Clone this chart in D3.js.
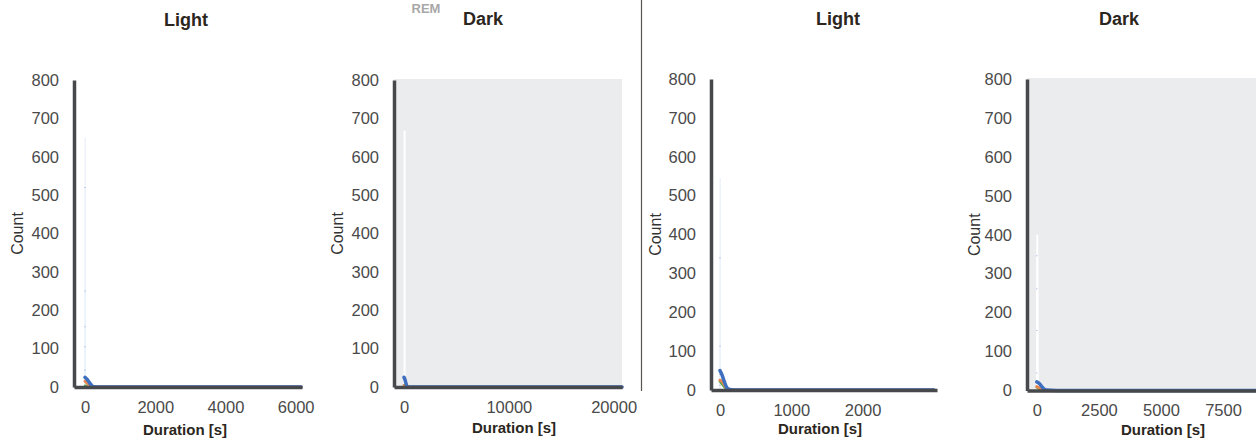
<!DOCTYPE html>
<html>
<head>
<meta charset="utf-8">
<script src="https://cdn.jsdelivr.net/npm/d3@7"></script>
<style>
  body { margin: 0; background: #fff; }
  svg { display: block; font-family: "Liberation Sans", Arial, sans-serif; }
</style>
</head>
<body>
<svg id="chart" width="1256" height="443"></svg>
<script>
// ---- data ----
const titles = ["Light", "Dark", "Light", "Dark"];
const yTicks = [0, 100, 200, 300, 400, 500, 600, 700, 800];
const xTicks = [
  [0, 2000, 4000, 6000],
  [0, 10000, 20000],
  [0, 1000, 2000],
  [0, 2500, 5000, 7500],
];
const xDomains = [
  [-315, 6180],
  [-960, 20800],
  [-126, 3043],
  [-395, 10600],
];

// histogram (very narrow bins near zero, overlapping hues)
const histBinWidth = [10, 190, 12, 80];
const histCounts = [
  [650, 520, 250, 157, 105, 44],
  [668, 22, 5],
  [545, 340, 113, 40, 12],
  [400, 346, 261, 154, 45],
];

// kde curves (x in seconds, y in counts)
const kdeX = [
  [0, 60, 120, 180, 240, 400, 6150],
  [0, 80, 160, 240, 320, 600, 20800],
  [0, 30, 60, 90, 120, 200, 3000],
  [0, 100, 200, 300, 400, 800, 10600],
];
const blueKde = [
  [25, 20, 12, 5, 1, 0, 0],
  [25, 20, 12, 4, 1, 0, 0],
  [50, 38, 22, 8, 2, 0, 0],
  [22, 18, 10, 3, 1, 0, 0],
];
const orangeKde = [
  [15, 10, 4, 1, 0, 0, 0],
  [3, 2, 1, 0, 0, 0, 0],
  [25, 22, 14, 6, 2, 0, 0],
  [10, 7, 3, 1, 0, 0, 0],
];
const greenKde = [
  [3, 2, 1, 0, 0, 0, 0],
  [5, 3, 1, 0, 0, 0, 0],
  [22, 15, 8, 3, 1, 0, 0],
  [8, 5, 2, 0, 0, 0, 0],
];

// ---- layout per panel ----
const panels = [
  { x0: 74, x1: 302, yTop: 80, yBot: 387, bg: false, titleX: 186, titleY: 26, labX: 185, labY: 435, countX: 18 },
  { x0: 394, x1: 622, yTop: 80, yBot: 387, bg: true, titleX: 483, titleY: 25, labX: 514, labY: 433, countX: 338 },
  { x0: 711, x1: 937, yTop: 79, yBot: 390, bg: false, titleX: 838, titleY: 25, labX: 820, labY: 434, countX: 656 },
  { x0: 1027, x1: 1300, yTop: 79, yBot: 390.5, bg: true, titleX: 1119, titleY: 25, labX: 1163, labY: 435, countX: 975 },
];

const colors = { blue: "#3f6fbf", orange: "#e8864f", green: "#5fa84f" };
const axisColor = "#46484b";

const svg = d3.select("#chart");

// top "REM" fragment
svg.append("text")
  .attr("x", 426).attr("y", 13)
  .attr("text-anchor", "middle")
  .attr("font-size", 13).attr("font-weight", "bold")
  .attr("fill", "#a8a8a8")
  .text("REM");

// separator between the two halves
svg.append("line")
  .attr("x1", 641.5).attr("x2", 641.5)
  .attr("y1", 0).attr("y2", 391)
  .attr("stroke", "#5c554e").attr("stroke-width", 1.2);

panels.forEach((p, i) => {
  const x = d3.scaleLinear().domain(xDomains[i]).range([p.x0, p.x1]);
  const y = d3.scaleLinear().domain([0, 800]).range([p.yBot, p.yTop]);
  const g = svg.append("g");

  if (p.bg) {
    g.append("rect")
      .attr("x", p.x0).attr("y", p.yTop - 1)
      .attr("width", p.x1 - p.x0).attr("height", p.yBot - p.yTop + 1)
      .attr("fill", "#ebeced");
  }

  // histogram bars (all stacked right at zero)
  const bw = Math.max(1.5, x(histBinWidth[i]) - x(0));
  g.selectAll("rect.bar")
    .data(histCounts[i])
    .join("rect")
    .attr("class", "bar")
    .attr("x", x(0) - 0.5)
    .attr("y", (d) => y(d))
    .attr("width", Math.min(bw, 2))
    .attr("height", (d) => y(0) - y(d))
    .attr("fill", p.bg ? "#ffffff" : "#eef2fa");

  // small blue caps on bar tops
  g.selectAll("rect.cap")
    .data(histCounts[i].slice(1))
    .join("rect")
    .attr("class", "cap")
    .attr("x", x(0) - 0.5)
    .attr("y", (d) => y(d) - 0.5)
    .attr("width", 1).attr("height", 1)
    .attr("fill", "#8ea8dc");

  // kde lines
  const line = d3.line().x((d) => x(d[0])).y((d) => y(d[1])).curve(d3.curveMonotoneX);
  [[greenKde, colors.green, 2.5], [orangeKde, colors.orange, 3], [blueKde, colors.blue, 3.5]].forEach(([series, c, w]) => {
    g.append("path")
      .datum(kdeX[i].map((v, k) => [v, series[i][k]]))
      .attr("d", line)
      .attr("fill", "none")
      .attr("stroke", c)
      .attr("stroke-width", w)
      .attr("stroke-linecap", "round");
  });

  // axes
  const xAxis = g.append("g")
    .attr("transform", `translate(0,${p.yBot})`)
    .call(d3.axisBottom(x).tickValues(xTicks[i]).tickFormat(d3.format("d"))
      .tickSize(0).tickSizeOuter(0).tickPadding(14));
  const yAxis = g.append("g")
    .attr("transform", `translate(${p.x0},0)`)
    .call(d3.axisLeft(y).tickValues(yTicks).tickFormat(d3.format("d"))
      .tickSize(0).tickSizeOuter(0).tickPadding(15));

  [xAxis, yAxis].forEach((a) => {
    a.select(".domain").attr("stroke", axisColor).attr("stroke-width", 3.5);
    a.selectAll("text")
      .attr("font-size", 16.5)
      .attr("fill", "#4a4a4a")
      .attr("font-family", "Liberation Sans, Arial, sans-serif");
  });

  // titles and labels
  g.append("text")
    .attr("x", p.titleX).attr("y", p.titleY)
    .attr("text-anchor", "middle")
    .attr("font-size", 18).attr("font-weight", "bold")
    .attr("fill", "#2b2620")
    .text(titles[i]);

  g.append("text")
    .attr("x", p.labX).attr("y", p.labY)
    .attr("text-anchor", "middle")
    .attr("font-size", 15).attr("font-weight", "bold")
    .attr("fill", "#2b2620")
    .text("Duration [s]");

  g.append("text")
    .attr("transform", `translate(${p.countX + 5},${(p.yTop + p.yBot) / 2}) rotate(-90)`)
    .attr("text-anchor", "middle")
    .attr("font-size", 16)
    .attr("fill", "#333")
    .text("Count");
});
</script>
</body>
</html>
